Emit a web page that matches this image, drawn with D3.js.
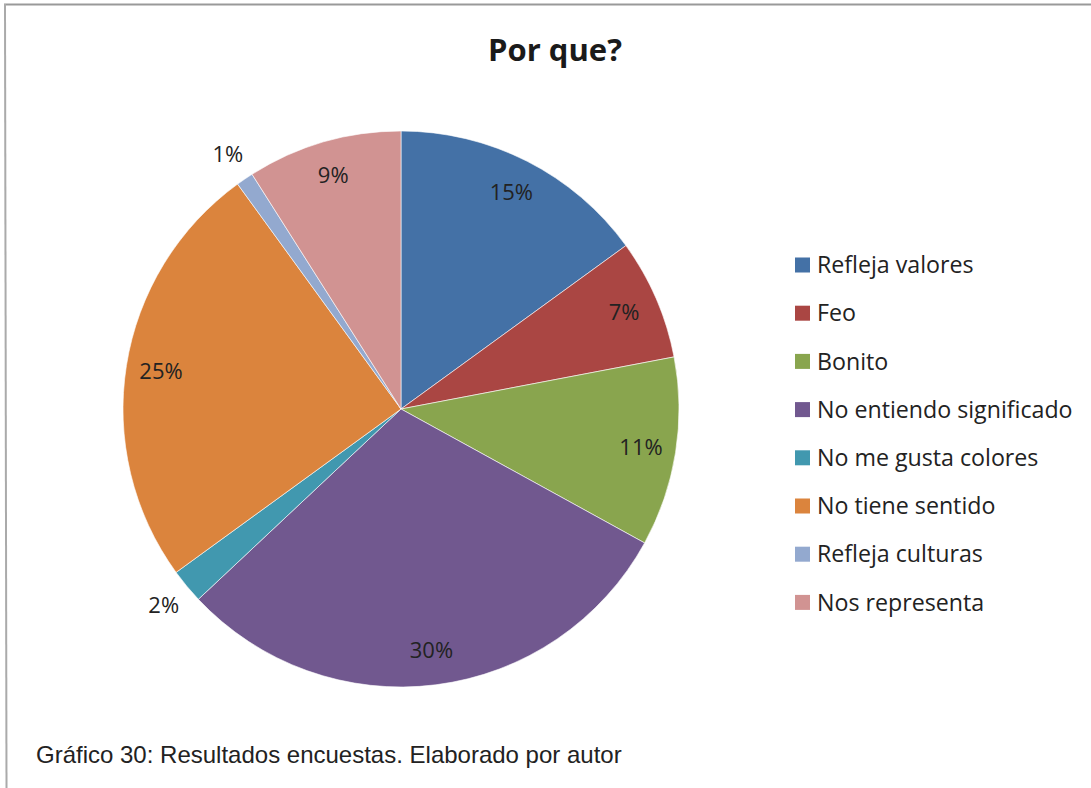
<!DOCTYPE html>
<html>
<head>
<meta charset="utf-8">
<script src="https://cdn.jsdelivr.net/npm/d3@7/dist/d3.min.js"></script>
<style>
  html, body { margin: 0; padding: 0; background: #fff; }
  svg { display: block; }
</style>
</head>
<body>
<svg id="chart" width="1091" height="788"></svg>
<script>
// Survey answers to "Por que?" (percent of respondents)
const categories = [
  "Refleja valores", "Feo", "Bonito", "No entiendo significado",
  "No me gusta colores", "No tiene sentido", "Refleja culturas", "Nos representa"
];
const values = [15, 7, 11, 30, 2, 25, 1, 9];
const colors = ["#4471A6", "#AA4643", "#89A54E", "#71588F", "#4198AF", "#DB843D", "#93A9CF", "#D19392"];
const titleText = "Por que?";
const captionText = "Gráfico 30: Resultados encuestas. Elaborado por autor";

const svg = d3.select("#chart");
const W = 1091, H = 788;
const FONT = "'Open Sans', Lato, sans-serif";

// Frame lines (top and left edges of the chart box)
svg.append("line").attr("x1", 4).attr("y1", 4.5).attr("x2", W).attr("y2", 4.5)
  .attr("stroke", "#999").attr("stroke-width", 2);
svg.append("line").attr("x1", 5).attr("y1", 4).attr("x2", 6.5).attr("y2", H)
  .attr("stroke", "#aaa").attr("stroke-width", 2);

// Title
svg.append("text").attr("x", 555).attr("y", 61)
  .attr("text-anchor", "middle")
  .attr("font-family", FONT)
  .attr("font-weight", "bold").attr("font-size", 31)
  .attr("fill", "#1a1a1a").text(titleText);

// Pie
const cx = 401, cy = 409, R = 278;
const color = d3.scaleOrdinal().domain(categories).range(colors);
const pie = d3.pie().value(d => d.v).sort(null);
const data = categories.map((c, i) => ({ c, v: values[i] }));
const arcs = pie(data);
const arc = d3.arc().innerRadius(0).outerRadius(R);
const inLabel = d3.arc().innerRadius(243).outerRadius(243);
const outLabel = d3.arc().innerRadius(308).outerRadius(308);

const g = svg.append("g").attr("transform", `translate(${cx},${cy})`);
g.selectAll("path").data(arcs).join("path")
  .attr("d", arc)
  .attr("fill", d => color(d.data.c))
  .attr("stroke", "#fff").attr("stroke-width", 0.6);

g.selectAll("text.lbl").data(arcs).join("text")
  .attr("class", "lbl")
  .attr("transform", d => `translate(${(d.data.v < 3 ? outLabel : inLabel).centroid(d)})`)
  .attr("text-anchor", "middle").attr("dy", "0.35em")
  .attr("font-family", FONT)
  .attr("font-size", 22).attr("fill", "#222")
  .text(d => d.data.v + "%");

// Legend
const legend = svg.append("g").attr("transform", "translate(795,265)");
const row = legend.selectAll("g").data(categories).join("g")
  .attr("transform", (d, i) => `translate(0,${i * 48.2})`);
row.append("rect").attr("x", 0).attr("y", -7.5).attr("width", 15).attr("height", 15)
  .attr("fill", d => color(d));
row.append("text").attr("x", 22).attr("dy", "0.35em")
  .attr("font-family", FONT)
  .attr("font-size", 23.2).attr("fill", "#222").text(d => d);

// Caption
svg.append("text").attr("x", 36).attr("y", 763)
  .attr("font-family", "'Liberation Sans', Arial, sans-serif")
  .attr("font-size", 24).attr("fill", "#222").text(captionText);
</script>
</body>
</html>
